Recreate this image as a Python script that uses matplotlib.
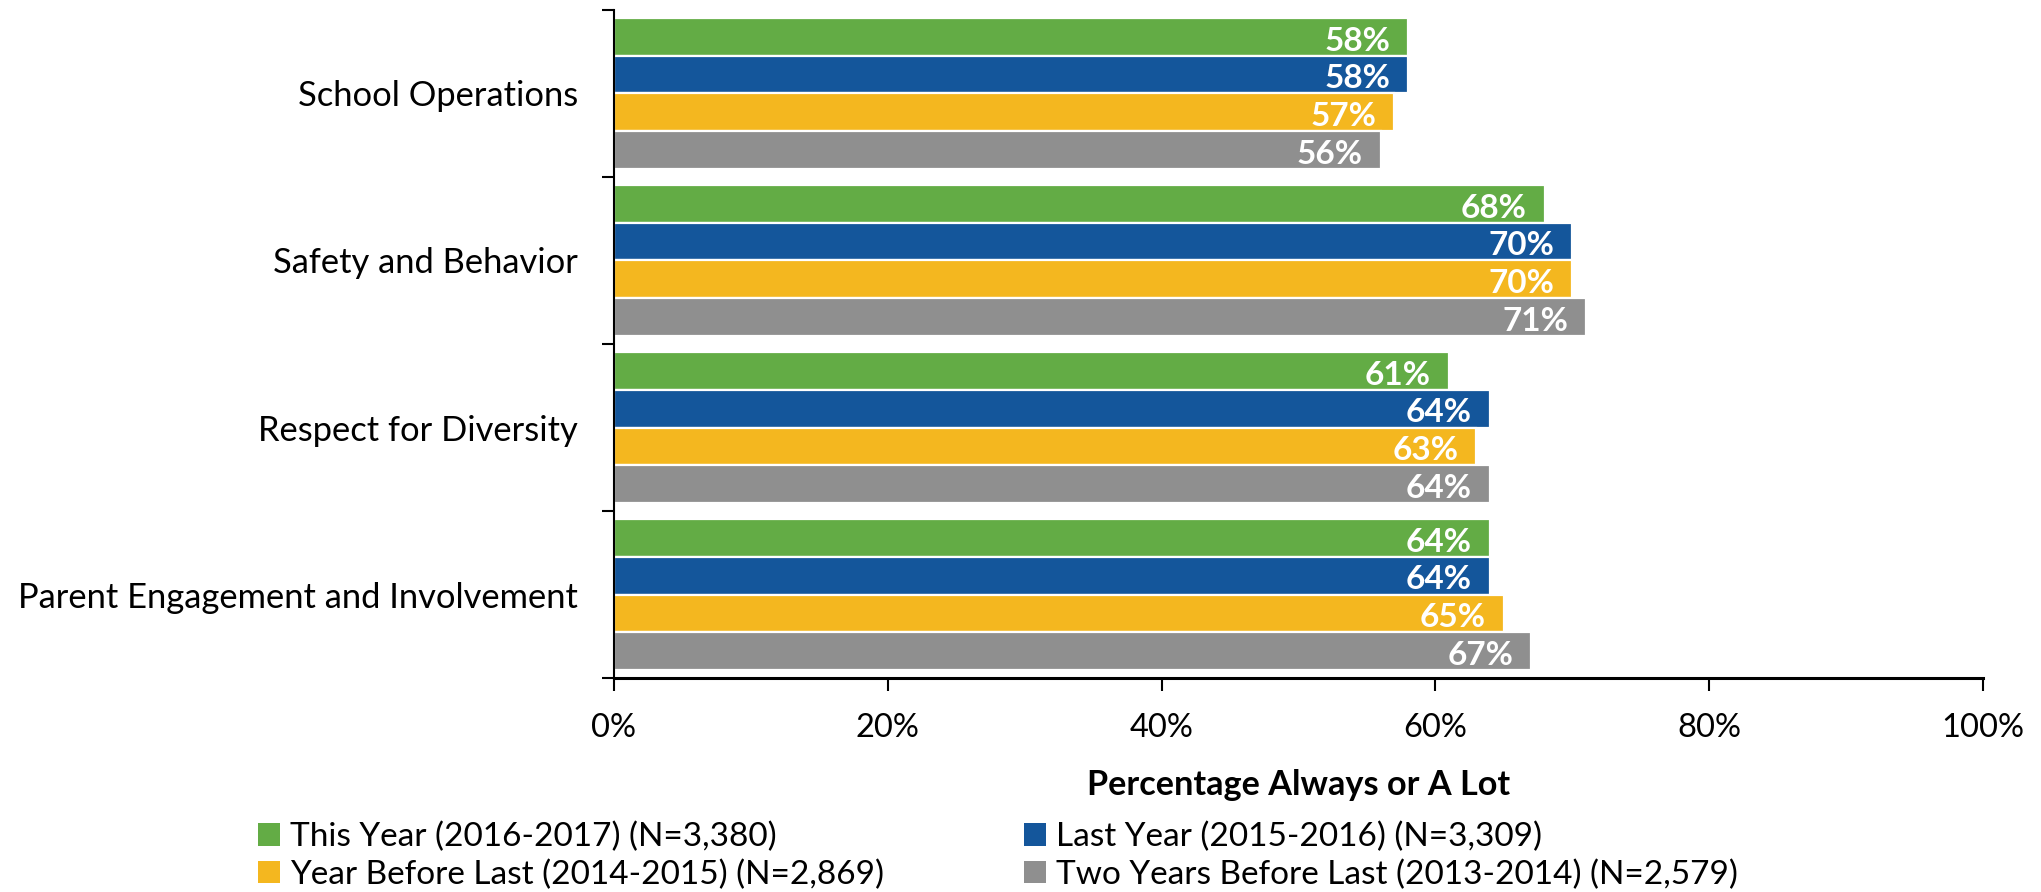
"""Parent survey: percentage answering Always or A Lot, by domain and survey year."""

from __future__ import annotations

import matplotlib
matplotlib.use("Agg")
import matplotlib.pyplot as plt
import numpy as np
from matplotlib.patches import Patch


CATEGORIES = [
    "School Operations",
    "Safety and Behavior",
    "Respect for Diversity",
    "Parent Engagement and Involvement",
]
SERIES_LABELS = [
    "This Year (2016-2017) (N=3,380)",
    "Last Year (2015-2016) (N=3,309)",
    "Year Before Last (2014-2015) (N=2,869)",
    "Two Years Before Last (2013-2014) (N=2,579)",
]
THIS_YEAR = [58, 68, 61, 64]
LAST_YEAR = [58, 70, 64, 64]
YEAR_BEFORE_LAST = [57, 70, 63, 65]
TWO_YEARS_BEFORE = [56, 71, 64, 67]
X_TICKS = [0, 20, 40, 60, 80, 100]

COLORS = ["#63AC45", "#14569B", "#F4B71F", "#8F8F8F"]
FONT = "Lato"


def main() -> None:
    plt.rcParams["font.family"] = [FONT, "DejaVu Sans"]
    series = [THIS_YEAR, LAST_YEAR, YEAR_BEFORE_LAST, TWO_YEARS_BEFORE]

    fig = plt.figure(figsize=(20.41, 8.92), dpi=100)
    ax = fig.add_axes([0.3008, 0.2399, 0.6708, 0.7489])

    y = np.arange(len(CATEGORIES))
    bar_h = 0.225
    for j, (values, color) in enumerate(zip(series, COLORS)):
        ypos = y + (j - 1.5) * bar_h
        bars = ax.barh(ypos, values, height=bar_h, color=color,
                       edgecolor="white", linewidth=1.6)
        for rect, v in zip(bars, values):
            ax.annotate(f"{v}%", xy=(rect.get_width(), rect.get_y() + rect.get_height() / 2),
                        xytext=(-13, -3), textcoords="offset points",
                        ha="right", va="center", color="white",
                        fontsize=24, fontweight="bold")

    ax.set_xlim(0, 100)
    ax.set_ylim(len(CATEGORIES) - 0.5, -0.5)

    # boundary ticks between categories, labels at the centres
    ax.set_yticks(np.arange(-0.5, len(CATEGORIES), 1.0))
    ax.set_yticklabels([])
    ax.set_yticks(y, minor=True)
    ax.set_yticklabels(CATEGORIES, minor=True, fontsize=24.8)
    ax.tick_params(axis="y", which="major", direction="out", length=9, width=1.5)
    ax.tick_params(axis="y", which="minor", length=0, pad=26)

    ax.set_xticks(X_TICKS)
    ax.set_xticklabels([f"{t}%" for t in X_TICKS], fontsize=23.5)
    ax.tick_params(axis="x", direction="out", length=9, width=1.5, pad=16)

    for side in ("top", "right"):
        ax.spines[side].set_visible(False)
    ax.spines["left"].set_linewidth(1.5)
    ax.spines["bottom"].set_linewidth(2.2)

    ax.set_xlabel("Percentage Always or A Lot", fontsize=24.7, fontweight="bold")
    ax.xaxis.set_label_coords(0.5, -0.160)
    ax.xaxis.label.set_va("center")

    handles = [Patch(facecolor=c, edgecolor="none") for c in COLORS]
    order = [0, 2, 1, 3]
    fig.legend([handles[i] for i in order], [SERIES_LABELS[i] for i in order],
               ncol=2, loc="upper left", bbox_to_anchor=(0.1264, 0.079),
               frameon=False, fontsize=24, borderpad=0, borderaxespad=0,
               handlelength=0.66, handleheight=0.66, handletextpad=0.3,
               labelspacing=0.22, columnspacing=4.2)

    fig.savefig("out.png", dpi=100)
    plt.close(fig)


if __name__ == "__main__":
    main()
